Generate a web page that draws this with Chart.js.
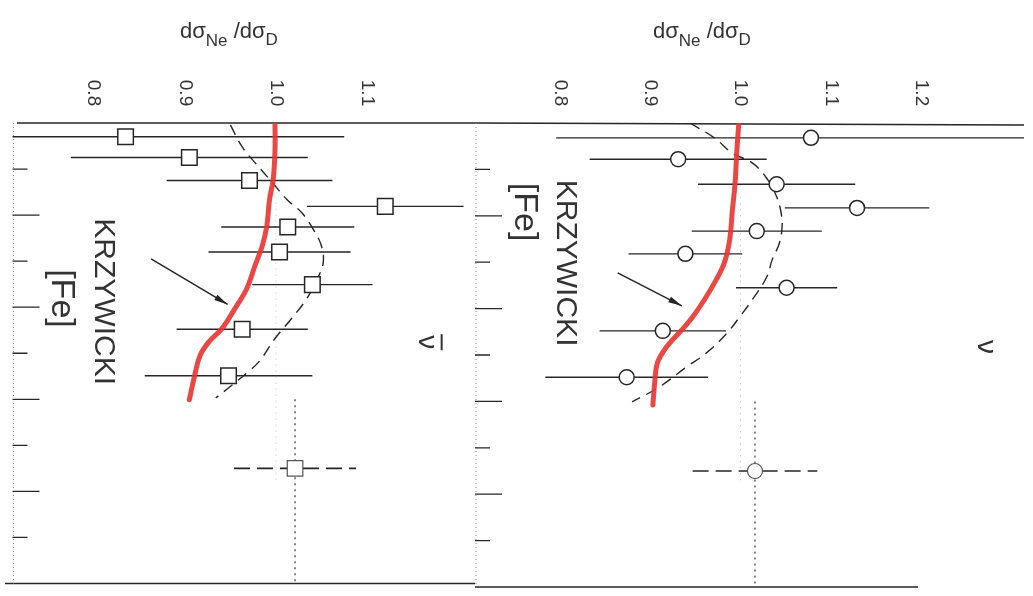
<!DOCTYPE html>
<html>
<head>
<meta charset="utf-8">
<title>dσNe/dσD</title>
<script src="https://cdn.jsdelivr.net/npm/chart.js@4.4.0/dist/chart.umd.min.js"></script>
<style>
  html, body { margin: 0; padding: 0; background: #fff; }
  #wrap { position: relative; width: 1033px; height: 596px; }
  #wrap canvas { position: absolute; left: 0; top: 0; }
</style>
</head>
<body>
<div id="wrap">
  <canvas id="antiChart" width="1033" height="596"></canvas>
  <canvas id="nuChart" width="1033" height="596"></canvas>
</div>
<script>
// ratio axis tick labels
const antiTicks = [0.8, 0.9, 1.0, 1.1];
const nuTicks = [0.8, 0.9, 1.0, 1.1, 1.2];
// x (vertical axis) ticks
const xTicks = [0.1, 0.2, 0.3, 0.4, 0.5, 0.6, 0.7, 0.8, 0.9];

// anti-neutrino panel (squares)
const antiX     = [0.030, 0.075, 0.125, 0.181, 0.226, 0.280, 0.351, 0.448, 0.549];
const antiRatio = [0.835, 0.905, 0.971, 1.120, 1.013, 1.004, 1.040, 0.963, 0.948];
const antiErr   = [0.240, 0.130, 0.091, 0.086, 0.073, 0.078, 0.066, 0.072, 0.092];

// neutrino panel (circles)
const nuX     = [0.032, 0.078, 0.132, 0.183, 0.233, 0.282, 0.355, 0.448, 0.548];
const nuRatio = [1.078, 0.931, 1.040, 1.129, 1.018, 0.939, 1.051, 0.914, 0.874];
const nuErr   = [0.282, 0.098, 0.087, 0.080, 0.072, 0.063, 0.056, 0.070, 0.090];

// high-x bin, drawn dashed
const highBin = [0.6, 1.0];
const highX = [0.75];
const antiHighRatio = [1.021];
const antiHighErr = [0.067];
const nuHighRatio = [1.016];
const nuHighErr = [0.069];

// theory (dashed) curves
const antiTheoryX = [0.004, 0.052, 0.086, 0.129, 0.166, 0.194, 0.231, 0.267, 0.302, 0.332, 0.381, 0.425, 0.468, 0.517, 0.543, 0.569, 0.597];
const antiTheoryR = [0.950, 0.963, 0.977, 0.996, 1.012, 1.028, 1.041, 1.050, 1.052, 1.047, 1.034, 1.017, 0.999, 0.982, 0.968, 0.952, 0.934];
const nuTheoryX = [0.000, 0.032, 0.065, 0.086, 0.119, 0.159, 0.194, 0.224, 0.259, 0.295, 0.332, 0.381, 0.418, 0.453, 0.496, 0.526, 0.569, 0.601];
const nuTheoryR = [0.944, 0.971, 0.991, 1.013, 1.029, 1.040, 1.045, 1.046, 1.043, 1.035, 1.029, 1.013, 0.999, 0.985, 0.962, 0.940, 0.910, 0.880];

// Krzywicki [Fe] (red) curves
const antiRedX = [0.000, 0.058, 0.123, 0.166, 0.224, 0.267, 0.310, 0.360, 0.403, 0.446, 0.474, 0.504, 0.547, 0.601];
const antiRedR = [0.999, 0.999, 0.997, 0.993, 0.990, 0.985, 0.977, 0.968, 0.955, 0.941, 0.927, 0.917, 0.911, 0.905];
const nuRedX = [0.004, 0.058, 0.129, 0.188, 0.252, 0.302, 0.338, 0.381, 0.418, 0.446, 0.483, 0.517, 0.560, 0.608];
const nuRedR = [0.998, 0.996, 0.994, 0.991, 0.988, 0.982, 0.973, 0.960, 0.947, 0.935, 0.918, 0.908, 0.905, 0.903];

const INK = '#262626';
const RED = 'rgba(232, 52, 48, 0.9)';
const FONT = '"Liberation Sans", Arial, sans-serif';

function pairs(xs, rs) {
    return xs.map((x, i) => ({ x: rs[i], y: x }));
}

function errorBars(xs, rs, es) {
    const out = [];
    xs.forEach((x, i) => {
        out.push({ x: rs[i] - es[i], y: x });
        out.push({ x: rs[i] + es[i], y: x });
        out.push({ x: rs[i], y: null });
    });
    return out;
}

function decorPlugin(p) {
    return {
        id: 'decor',
        beforeDatasetsDraw(chart) {
            const ctx = chart.ctx;
            const xs = chart.scales.x, ys = chart.scales.y;
            const a = chart.chartArea;
            ctx.save();
            ctx.strokeStyle = INK;
            ctx.lineWidth = 1.3;
            // frame lines
            ctx.beginPath();
            ctx.moveTo(p.topFrom, a.top);
            ctx.lineTo(a.right, a.top + p.topSlant);
            ctx.moveTo(p.bottomFrom, a.bottom);
            ctx.lineTo(p.bottomTo, a.bottom);
            ctx.stroke();
            // dotted side axis
            ctx.strokeStyle = '#888';
            ctx.lineWidth = 1;
            ctx.setLineDash([1, 3]);
            ctx.beginPath();
            ctx.moveTo(a.left + 1, a.top);
            ctx.lineTo(a.left + 1, a.bottom);
            ctx.stroke();
            // faint reference at 1.0
            ctx.strokeStyle = '#bbb';
            ctx.setLineDash([1, 5]);
            ctx.beginPath();
            ctx.moveTo(xs.getPixelForValue(1.0), ys.getPixelForValue(0.16));
            ctx.lineTo(xs.getPixelForValue(1.0), ys.getPixelForValue(0.78));
            ctx.stroke();
            ctx.setLineDash([]);
            // side ticks
            ctx.strokeStyle = INK;
            ctx.lineWidth = 1.3;
            ctx.beginPath();
            xTicks.forEach((t, i) => {
                const y = ys.getPixelForValue(t);
                const len = (i % 2 === 1) ? 27 : 15;
                ctx.moveTo(a.left, y);
                ctx.lineTo(a.left + len, y);
            });
            ctx.stroke();
            ctx.restore();
        },
        afterDraw(chart) {
            const ctx = chart.ctx;
            const xs = chart.scales.x, ys = chart.scales.y;
            ctx.save();
            ctx.fillStyle = '#333';
            // rotated ratio tick labels
            ctx.font = '19px ' + FONT;
            ctx.textAlign = 'center';
            ctx.textBaseline = 'middle';
            p.ticks.forEach(t => {
                ctx.save();
                ctx.translate(xs.getPixelForValue(t), 93);
                ctx.rotate(Math.PI / 2);
                ctx.fillText(t.toFixed(1), 0, 0);
                ctx.restore();
            });
            // title  dσNe / dσD
            ctx.textAlign = 'left';
            ctx.textBaseline = 'alphabetic';
            let x = p.titleX;
            const base = 38;
            const parts = [['dσ', 22, 0], ['Ne', 17, 8], [' /dσ', 22, 0], ['D', 17, 7]];
            parts.forEach(([s, size, dy]) => {
                ctx.font = size + 'px ' + FONT;
                ctx.fillText(s, x, base + dy);
                x += ctx.measureText(s).width;
            });
            // rotated annotation texts
            ctx.textAlign = 'center';
            ctx.textBaseline = 'middle';
            p.texts.forEach(tx => {
                ctx.save();
                ctx.font = tx.size + 'px ' + FONT;
                ctx.translate(xs.getPixelForValue(tx.r), ys.getPixelForValue(tx.x));
                ctx.rotate(Math.PI / 2);
                ctx.fillText(tx.text, 0, 0);
                if (tx.bar) {
                    // overline of the anti-neutrino symbol
                    ctx.strokeStyle = '#333';
                    ctx.lineWidth = 2;
                    ctx.beginPath();
                    ctx.moveTo(-8, -tx.size * 0.55);
                    ctx.lineTo(8, -tx.size * 0.55);
                    ctx.stroke();
                }
                ctx.restore();
            });
            // arrow
            const x0 = xs.getPixelForValue(p.arrow[0]), y0 = ys.getPixelForValue(p.arrow[1]);
            const x1 = xs.getPixelForValue(p.arrow[2]), y1 = ys.getPixelForValue(p.arrow[3]);
            const ang = Math.atan2(y1 - y0, x1 - x0);
            ctx.strokeStyle = INK;
            ctx.fillStyle = INK;
            ctx.lineWidth = 1.5;
            ctx.beginPath();
            ctx.moveTo(x0, y0);
            ctx.lineTo(x1, y1);
            ctx.stroke();
            ctx.beginPath();
            ctx.moveTo(x1, y1);
            ctx.lineTo(x1 - 14 * Math.cos(ang - 0.22), y1 - 14 * Math.sin(ang - 0.22));
            ctx.lineTo(x1 - 14 * Math.cos(ang + 0.22), y1 - 14 * Math.sin(ang + 0.22));
            ctx.closePath();
            ctx.fill();
            ctx.restore();
        }
    };
}

function makePanel(id, d) {
    const markerStyle = {
        type: 'line',
        showLine: false,
        pointStyle: d.marker,
        pointRadius: d.radius,
        pointBackgroundColor: '#fff',
        pointBorderColor: INK,
        pointBorderWidth: 1.5,
        order: 1
    };
    return new Chart(document.getElementById(id), {
        type: 'line',
        data: {
            datasets: [
                {
                    label: 'theory',
                    data: pairs(d.theoryX, d.theoryR),
                    borderColor: INK,
                    borderWidth: 1.4,
                    borderDash: [11, 7],
                    pointRadius: 0,
                    tension: 0.4,
                    order: 4
                },
                {
                    label: 'errors',
                    data: errorBars(d.x, d.r, d.e),
                    borderColor: INK,
                    borderWidth: 1.4,
                    pointRadius: 0,
                    spanGaps: false,
                    order: 3
                },
                {
                    label: 'high-x error',
                    data: errorBars(highX, d.highR, d.highE),
                    borderColor: INK,
                    borderWidth: 1.6,
                    borderDash: [16, 7],
                    pointRadius: 0,
                    spanGaps: false,
                    order: 3
                },
                {
                    label: 'high-x bin',
                    data: [{ x: d.highR[0], y: highBin[0] }, { x: d.highR[0], y: highBin[1] }],
                    borderColor: '#444',
                    borderWidth: 1.3,
                    borderDash: [2, 4],
                    pointRadius: 0,
                    order: 3
                },
                Object.assign({ label: 'data', data: pairs(d.x, d.r) }, markerStyle),
                Object.assign({ label: 'high-x', data: pairs(highX, d.highR) }, markerStyle, { pointBorderColor: '#555', pointBorderWidth: 1.2 }),
                {
                    label: 'Krzywicki [Fe]',
                    data: pairs(d.redX, d.redR),
                    borderColor: RED,
                    borderWidth: 5,
                    pointRadius: 0,
                    tension: 0.4,
                    borderCapStyle: 'round',
                    order: 0
                }
            ]
        },
        options: {
            responsive: false,
            animation: false,
            layout: { padding: d.padding },
            plugins: { legend: { display: false }, tooltip: { enabled: false } },
            scales: {
                x: { type: 'linear', display: false, min: d.min, max: d.max },
                y: { type: 'linear', display: false, min: 0, max: 1, reverse: true }
            }
        },
        plugins: [decorPlugin(d.decor)]
    });
}

makePanel('antiChart', {
    marker: 'rect', radius: 11,
    x: antiX, r: antiRatio, e: antiErr,
    highR: antiHighRatio, highE: antiHighErr,
    theoryX: antiTheoryX, theoryR: antiTheoryR,
    redX: antiRedX, redR: antiRedR,
    min: 0.7109, max: 1.2185,
    padding: { left: 8, right: 558, top: 123, bottom: 9 },
    decor: {
        ticks: antiTicks, titleX: 180,
        topFrom: 17, topSlant: 0, bottomFrom: 5, bottomTo: 475,
        texts: [
            { text: 'KRZYWICKI', r: 0.810, x: 0.388, size: 30 },
            { text: '[Fe]', r: 0.765, x: 0.381, size: 34 },
            { text: 'ν', r: 1.165, x: 0.476, size: 28, bar: true }
        ],
        arrow: [0.863, 0.295, 0.947, 0.394]
    }
});

makePanel('nuChart', {
    marker: 'circle', radius: 7.5,
    x: nuX, r: nuRatio, e: nuErr,
    highR: nuHighRatio, highE: nuHighErr,
    theoryX: nuTheoryX, theoryR: nuTheoryR,
    redX: nuRedX, redR: nuRedR,
    min: 0.7061, max: 1.3138,
    padding: { left: 475, right: 8, top: 123, bottom: 9 },
    decor: {
        ticks: nuTicks, titleX: 653,
        topFrom: 475, topSlant: 2, bottomFrom: 475, bottomTo: 918,
        texts: [
            { text: 'KRZYWICKI', r: 0.806, x: 0.302, size: 30 },
            { text: '[Fe]', r: 0.761, x: 0.192, size: 34 },
            { text: 'ν', r: 1.271, x: 0.483, size: 28 }
        ],
        arrow: [0.864, 0.323, 0.935, 0.394]
    }
});
</script>
</body>
</html>
